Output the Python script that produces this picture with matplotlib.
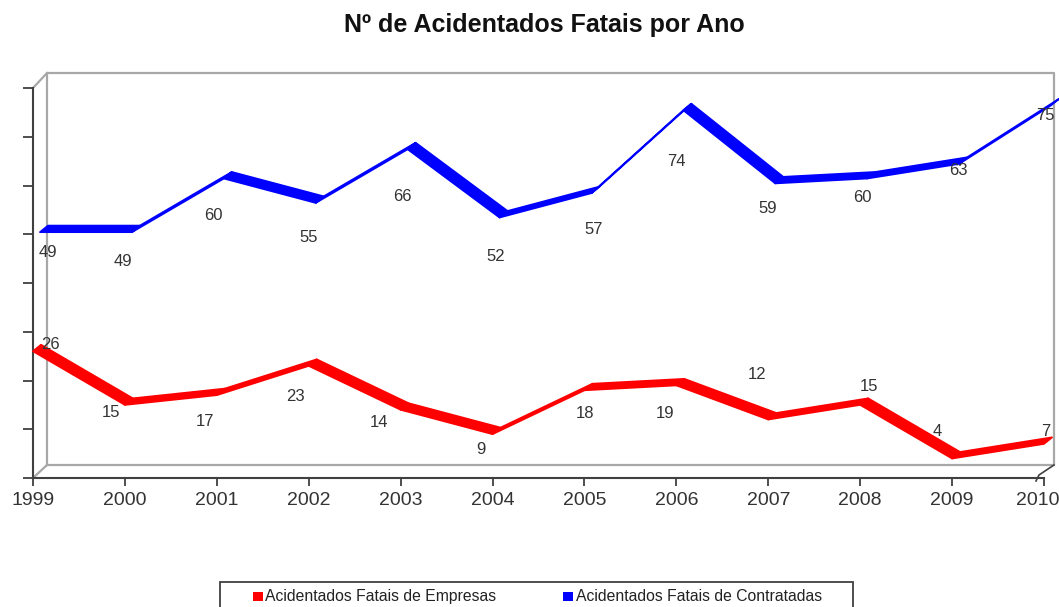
import matplotlib
matplotlib.use("Agg")
import matplotlib.pyplot as plt
import matplotlib.transforms as mtransforms
from matplotlib.patches import Polygon, Rectangle
from matplotlib.lines import Line2D

# ---- data ----
years = [1999, 2000, 2001, 2002, 2003, 2004, 2005, 2006, 2007, 2008, 2009, 2010]
empresas = [26, 15, 17, 23, 14, 9, 18, 19, 12, 15, 4, 7]
contratadas = [49, 49, 60, 55, 66, 52, 57, 74, 59, 60, 63, 75]
title = "Nº de Acidentados Fatais por Ano"
label_emp = "Acidentados Fatais de Empresas"
label_con = "Acidentados Fatais de Contratadas"

# label offsets (pixels, x right / y down) relative to each point -- layout only
off_emp = [(17, -7), (-14, 8), (-12, 26), (-13, 31), (-22, 13), (-12, 15),
           (1, 23), (-11, 28), (-11, -45), (9, -18), (-15, -27), (2, -12)]
off_con = [(15, 13), (-2, 22), (-3, 30), (0, 28), (2, 40), (3, 32),
           (9, 29), (0, 44), (-1, 18), (2, 12), (6, 0), (1, 3)]

W, H = 1059, 607
plt.rcParams['font.family'] = ['Liberation Sans', 'DejaVu Sans']
fig = plt.figure(figsize=(W / 100, H / 100), dpi=100)

ax_l, ax_b, ax_r, ax_t = 33, 478, 1044, 88  # pixel positions of the axes box
ax = fig.add_axes([ax_l / W, 1 - ax_b / H, (ax_r - ax_l) / W, (ax_b - ax_t) / H])
ax.set_xlim(years[0], years[-1])
ax.set_ylim(0, 80)

pxx = (years[-1] - years[0]) / (ax_r - ax_l)   # data units per pixel (x)
pxy = 80 / (ax_b - ax_t)                        # data units per pixel (y)

# back wall & depth edges
wall = '#a8a8a8'
x0, x1 = years[0], years[-1]
bx0, bx1 = x0 + 14 * pxx, x1 + 10 * pxx
by0, by1 = 13 * pxy, 80 + 15 * pxy
for xs, ys in [([bx0, bx1, bx1, bx0, bx0], [by0, by0, by1, by1, by0]),
               ([x0, bx0], [80, by1]), ([x0, bx0], [0, by0])]:
    ax.add_line(Line2D(xs, ys, color=wall, lw=1.6, clip_on=False, zorder=1))
ax.add_line(Line2D([x1 - 8 * pxx, x1 - 5 * pxx, bx1], [-3 * pxy, 3 * pxy, by0],
                   color='#404040', lw=1.2, clip_on=False, zorder=1))


def ribbon(vals, color, front, depth):
    fx, fy = front[0] * pxx, front[1] * pxy
    dx, dy = depth[0] * pxx, depth[1] * pxy
    for i in range(len(years) - 1):
        xa, xb = years[i] + fx, years[i + 1] + fx
        ya, yb = vals[i] + fy, vals[i + 1] + fy
        verts = [(xa, ya), (xb, yb), (xb + dx, yb + dy), (xa + dx, ya + dy)]
        ax.add_patch(Polygon(verts, closed=True, facecolor=color, edgecolor=color,
                             lw=1.3, joinstyle='round', clip_on=False, zorder=3))


ribbon(empresas, '#ff0000', (0, 0), (8, 6.5))
ribbon(contratadas, '#0000ff', (7, 7), (8, 6.5))

for vals, offs in [(empresas, off_emp), (contratadas, off_con)]:
    for x, v, (ox, oy) in zip(years, vals, offs):
        ax.annotate(str(v), (x, v), xytext=(ox, -oy), textcoords='offset pixels',
                    ha='center', va='center', fontsize=12, color='#333333',
                    annotation_clip=False, zorder=5)

# axes styling
for s in ['top', 'right']:
    ax.spines[s].set_visible(False)
for s in ['left', 'bottom']:
    ax.spines[s].set_color('#404040')
    ax.spines[s].set_linewidth(1.5)
ax.set_xticks(years)
ax.set_xticklabels([str(y) for y in years])
ax.set_yticks(range(0, 81, 10))
ax.set_yticklabels([])
ax.tick_params(axis='x', length=6, width=1.3, color='#404040', labelsize=14,
               labelcolor='#333333', pad=4)
ax.tick_params(axis='y', length=7, width=1.3, color='#404040')
ax.patch.set_alpha(0)
last = ax.get_xticklabels()[-1]
last.set_transform(last.get_transform() +
                   mtransforms.ScaledTranslation(-6 / 100, 0, fig.dpi_scale_trans))

fig.text(544 / W, 1 - 25 / H, title, ha='center', va='center', fontsize=18,
         fontweight='bold', color='#111111')

# legend (bottom edge runs off the picture as in the reference)
def fx(p):
    return p / W


def fy(p):
    return 1 - p / H


fig.add_artist(Rectangle((fx(220), fy(615)), fx(853) - fx(220), fy(582) - fy(615),
                         transform=fig.transFigure, facecolor='white',
                         edgecolor='#404040', lw=1.3))
for sx, col, tx, txt in [(253, '#ff0000', 265, label_emp),
                         (563, '#0000ff', 576, label_con)]:
    fig.add_artist(Rectangle((fx(sx), fy(601)), fx(9.5), 9.5 / H,
                             transform=fig.transFigure, facecolor=col,
                             edgecolor='none'))
    fig.text(fx(tx), fy(596.5), txt, ha='left', va='center', fontsize=11.3,
             color='#222222')

fig.savefig('out.png', dpi=100)
